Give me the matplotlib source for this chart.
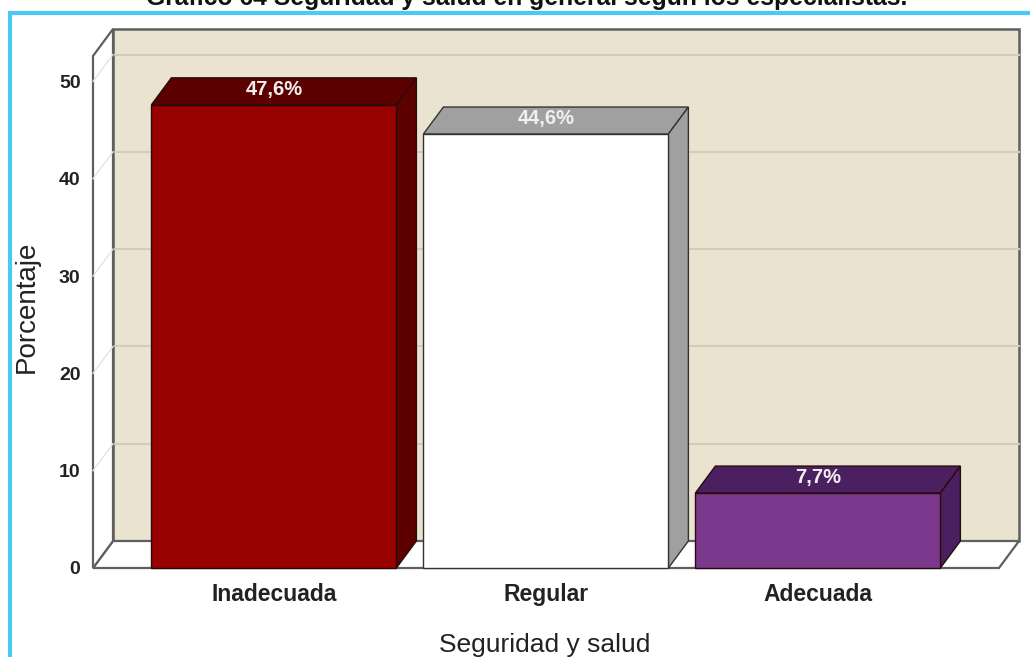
import matplotlib
matplotlib.use("Agg")
import matplotlib.pyplot as plt
from matplotlib.patches import Polygon, Rectangle
from matplotlib.lines import Line2D

plt.rcParams['font.family'] = ['Liberation Sans', 'DejaVu Sans']

categories = ["Inadecuada", "Regular", "Adecuada"]
percentages = [47.6, 44.6, 7.7]
value_labels = ["47,6%", "44,6%", "7,7%"]
y_ticks = [0, 10, 20, 30, 40, 50]

front_colors = ["#990000", "#FFFFFF", "#7A378B"]
side_colors = ["#5C0000", "#A0A0A0", "#4A2060"]

W, H = 1030, 657
PX_PER_CAT = 272.0
PX_PER_PCT = 9.73

fig = plt.figure(figsize=(W / 100, H / 100), dpi=100, facecolor="white")
ax = fig.add_axes([93 / W, (H - 568) / H, (999 - 93) / W, (568 - 56) / H])
ax.set_xlim(-0.665, (999 - 93) / PX_PER_CAT - 0.665)
ax.set_ylim(0, (568 - 56) / PX_PER_PCT)
ax.patch.set_visible(False)
for s in ax.spines.values():
    s.set_visible(False)

# depth of the fake 3D box, in data units
dx = 20 / PX_PER_CAT
dy = 27 / PX_PER_PCT
x0, x1 = ax.get_xlim()
y_top = ax.get_ylim()[1]
bar_w = 245 / PX_PER_CAT
edge = "#5F5F5F"

# back wall, floor and left wall
ax.add_patch(Rectangle((x0 + dx, dy), x1 - x0, y_top, fc="#E9E3CF", ec=edge, lw=1.8, clip_on=False, zorder=1))
ax.add_patch(Polygon([(x0, 0), (x1, 0), (x1 + dx, dy), (x0 + dx, dy)], fc="white", ec=edge, lw=1.6, clip_on=False, zorder=1.5))
ax.add_patch(Polygon([(x0, 0), (x0 + dx, dy), (x0 + dx, y_top + dy), (x0, y_top)], fc="white", ec=edge, lw=1.6, clip_on=False, zorder=1.5))

# gridlines on the back wall and the left wall
for t in y_ticks[1:]:
    ax.add_line(Line2D([x0 + dx, x1 + dx], [t + dy, t + dy], color="#D2CCB9", lw=1.5, clip_on=False, zorder=1.2))
    ax.add_line(Line2D([x0, x0 + dx], [t, t + dy], color="#E4E4E4", lw=1, clip_on=False, zorder=1.6))

# bars as front face + top face + side face
for i, v in enumerate(percentages):
    left = i - bar_w / 2
    right = i + bar_w / 2
    bar_edge = "#333333" if i == 1 else "#2A0A0A"
    ax.add_patch(Polygon([(left, v), (right, v), (right + dx, v + dy), (left + dx, v + dy)],
                         fc=side_colors[i], ec=bar_edge, lw=1, clip_on=False, zorder=3))
    ax.add_patch(Polygon([(right, 0), (right + dx, dy), (right + dx, v + dy), (right, v)],
                         fc=side_colors[i], ec=bar_edge, lw=1, clip_on=False, zorder=3))
    ax.bar(i, v, width=bar_w, color=front_colors[i], edgecolor=bar_edge, linewidth=1, zorder=4, clip_on=False)
    ax.text(i, v + 1.6, value_labels[i], ha="center", va="center", color="#F2F0EE",
            fontsize=14.5, fontweight="bold", zorder=5, clip_on=False)

ax.set_xticks(range(len(categories)))
ax.set_xticklabels(categories, fontsize=16.5, fontweight="bold", color="#222222")
ax.set_yticks(y_ticks)
ax.set_yticklabels(y_ticks, fontsize=14, fontweight="bold", color="#222222")
ax.tick_params(axis="both", length=0)
ax.tick_params(axis="x", pad=11)
ax.tick_params(axis="y", pad=9)

ax.set_xlabel("Seguridad y salud", fontsize=19, color="#222222")
ax.xaxis.set_label_coords((545 - 93) / (999 - 93), -(645 - 568) / (568 - 56), transform=ax.transAxes)
ax.xaxis.label.set_va("center")
ax.set_ylabel("Porcentaje", fontsize=20, color="#222222")
ax.yaxis.set_label_coords((27 - 93) / (999 - 93), (568 - 307) / (568 - 56), transform=ax.transAxes)
ax.yaxis.label.set_va("center")

# blue frame: left side and top only
frame = "#4CC8F4"
fig.add_artist(Line2D([10 / W, 10 / W, 1 / 1],
                      [0, (H - 12.5) / H, (H - 12.5) / H],
                      color=frame, lw=3, transform=fig.transFigure, solid_joinstyle="miter"))

fig.text(527 / W, (H - 5) / H, "Gráfico 64 Seguridad y salud en general según los especialistas.",
         ha="center", va="baseline", fontsize=17.8, fontweight="bold", color="#111111")

fig.savefig("out.png", dpi=100)
